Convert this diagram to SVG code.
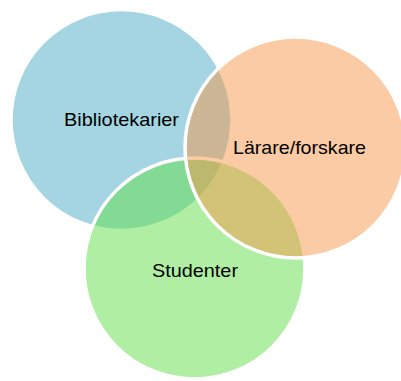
<svg xmlns="http://www.w3.org/2000/svg" width="401" height="381" viewBox="0 0 401 381">
<style>
.c{stroke:#fff;stroke-width:3.5}
.t{font-family:"Liberation Sans",Arial,sans-serif;font-size:19px;fill:#000;text-anchor:middle}
</style>
<rect width="401" height="381" fill="#fff"/>
<g id="bibliotekarier">
<circle class="c" cx="121.5" cy="120" r="110.5" fill="#4BABC5" fill-opacity="0.5"/>
</g>
<g id="studenter">
<circle class="c" cx="194.5" cy="268.5" r="110.5" fill="#61DF47" fill-opacity="0.5"/>
</g>
<g id="lararforskare">
<circle class="c" cx="295.5" cy="147.5" r="110.5" fill="#F59749" fill-opacity="0.5"/>
</g>
<g id="labels">
<text class="t" x="121.5" y="125.5" textLength="115" lengthAdjust="spacingAndGlyphs">Bibliotekarier</text>
<text class="t" x="299.5" y="154" textLength="133" lengthAdjust="spacingAndGlyphs">Lärare/forskare</text>
<text class="t" x="195" y="277" textLength="86" lengthAdjust="spacingAndGlyphs">Studenter</text>
</g>
</svg>
